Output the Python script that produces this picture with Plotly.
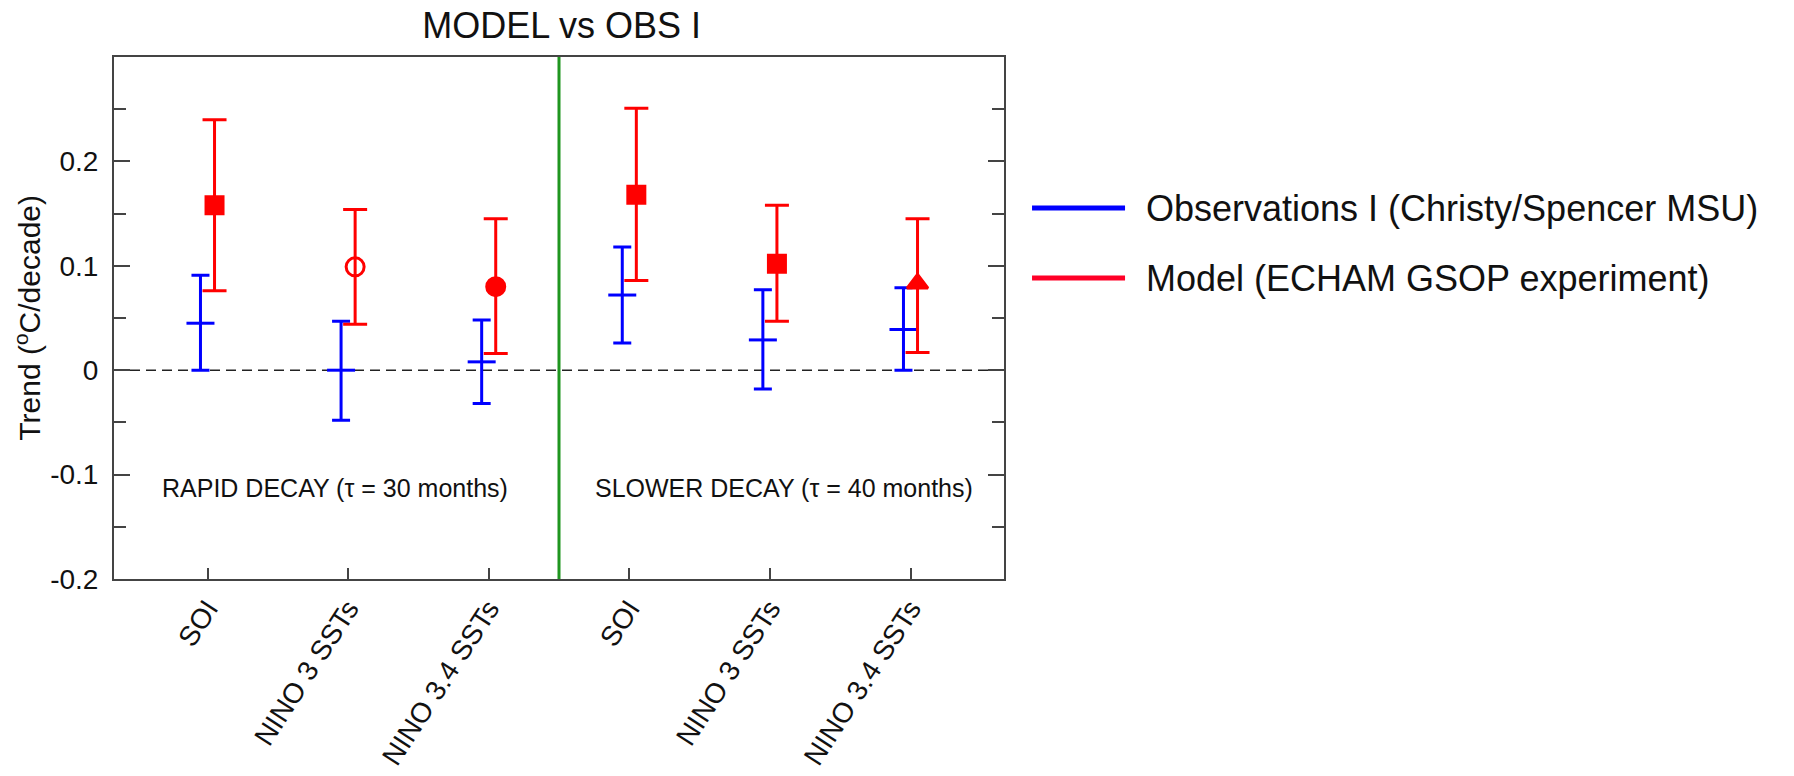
import numpy as np
import plotly.graph_objects as go

# ---- data ----
categories = ["SOI", "NINO 3 SSTs", "NINO 3.4 SSTs", "SOI", "NINO 3 SSTs", "NINO 3.4 SSTs"]
obs_center = [0.045, 0.000, 0.008, 0.072, 0.029, 0.039]
obs_upper = [0.091, 0.047, 0.048, 0.118, 0.077, 0.079]
obs_lower = [0.000, -0.048, -0.032, 0.026, -0.018, 0.000]
model_center = [0.158, 0.099, 0.080, 0.168, 0.102, 0.083]
model_upper = [0.240, 0.154, 0.145, 0.251, 0.158, 0.145]
model_lower = [0.076, 0.044, 0.016, 0.086, 0.047, 0.017]
model_symbols = ["square", "circle-open", "circle", "square", "square", "triangle-up"]
model_sizes = [17, 18, 18, 17, 17, 18]
yticks = [-0.2, -0.1, 0, 0.1, 0.2]
ytick_labels = ["-0.2", "-0.1", "0", "0.1", "0.2"]
legend_labels = ["Observations I (Christy/Spencer MSU)", "Model (ECHAM GSOP experiment)"]
panel_labels = ["RAPID DECAY (\u03c4 = 30 months)", "SLOWER DECAY (\u03c4 = 40 months)"]

FONT = "Liberation Sans, Arial, Helvetica, sans-serif"
BLUE = "#0000ff"
RED = "#ff0000"
pos = np.arange(1, len(categories) + 1)
off = 0.05

oc = np.array(obs_center)
mc = np.array(model_center)

fig = go.Figure()
fig.add_trace(go.Scatter(
    x=pos - off, y=oc, mode="markers",
    marker=dict(symbol="line-ew", size=20, opacity=1, line=dict(width=3, color=BLUE), color=BLUE),
    error_y=dict(type="data", symmetric=False,
                 array=np.array(obs_upper) - oc, arrayminus=oc - np.array(obs_lower),
                 color=BLUE, thickness=3, width=9),
    showlegend=False, hoverinfo="skip"))
fig.add_trace(go.Scatter(
    x=pos + off, y=mc, mode="markers",
    marker=dict(symbol=model_symbols, size=model_sizes, color=RED, opacity=1,
                line=dict(width=3, color=RED)),
    error_y=dict(type="data", symmetric=False,
                 array=np.array(model_upper) - mc, arrayminus=mc - np.array(model_lower),
                 color=RED, thickness=3, width=12),
    showlegend=False, hoverinfo="skip"))

# zero line and divider
fig.add_shape(type="line", xref="paper", yref="y", x0=0, x1=1, y0=0, y1=0,
              line=dict(color="#222", width=1.5, dash="10px,6px"), layer="below")
fig.add_shape(type="line", xref="x", yref="paper", x0=3.5, x1=3.5, y0=0, y1=1,
              line=dict(color="#1f961f", width=3), layer="above")

# panel labels
fig.add_annotation(x=1.91, y=-0.113, xref="x", yref="y", text=panel_labels[0],
                   showarrow=False, font=dict(family=FONT, size=25, color="#111"))
fig.add_annotation(x=5.10, y=-0.113, xref="x", yref="y", text=panel_labels[1],
                   showarrow=False, font=dict(family=FONT, size=25, color="#111"))

# y-axis title
fig.add_annotation(x=-0.097, y=0.5, xref="paper", yref="paper",
                   xanchor="center", yanchor="middle",
                   text="Trend (<sup>o</sup>C/decade)", textangle=-90, showarrow=False,
                   font=dict(family=FONT, size=30, color="#111"))

# manual legend
for i, (lab, col) in enumerate(zip(legend_labels, [BLUE, "#ff0027"])):
    yp = [0.7107, 0.5766][i]
    fig.add_shape(type="line", xref="paper", yref="paper", x0=1.0315, x1=1.136,
                  y0=yp, y1=yp, line=dict(color=col, width=5))
    fig.add_annotation(x=1.157, y=yp, xref="paper", yref="paper", text=lab,
                       xanchor="left", yanchor="middle", showarrow=False,
                       font=dict(family=FONT, size=36, color="#111"))

fig.update_layout(
    width=1794, height=776,
    margin=dict(l=114, r=790, t=57, b=197, autoexpand=False),
    paper_bgcolor="white", plot_bgcolor="white",
    title=dict(text="MODEL vs OBS I", x=0.503, xref="paper", xanchor="center",
               y=1 - 25 / 776, yref="container", yanchor="middle",
               font=dict(family=FONT, size=36, color="#111")),
    font=dict(family=FONT, color="#111"),
)
fig.update_xaxes(
    range=[0.335, 6.665], tickmode="array", tickvals=pos, ticktext=categories,
    ticks="inside", ticklen=11, tickwidth=2, tickcolor="#444",
    tickangle=-57, tickfont=dict(family=FONT, size=28, color="#111"),
    showline=True, linecolor="#444", linewidth=2, mirror=True,
    showgrid=False, zeroline=False, automargin=False)
fig.update_yaxes(
    range=[-0.2, 0.3], tickmode="array", tickvals=yticks, ticktext=ytick_labels,
    ticks="inside", ticklen=16, tickwidth=2, tickcolor="#444",
    minor=dict(tickmode="array", tickvals=[-0.15, -0.05, 0.05, 0.15, 0.25],
               ticks="inside", ticklen=12, tickwidth=2, tickcolor="#444", showgrid=False),
    tickfont=dict(family=FONT, size=28, color="#111"), ticklabelstandoff=8,
    showline=True, linecolor="#444", linewidth=2, mirror="ticks",
    showgrid=False, zeroline=False, automargin=False)

fig.write_html("out.html")
